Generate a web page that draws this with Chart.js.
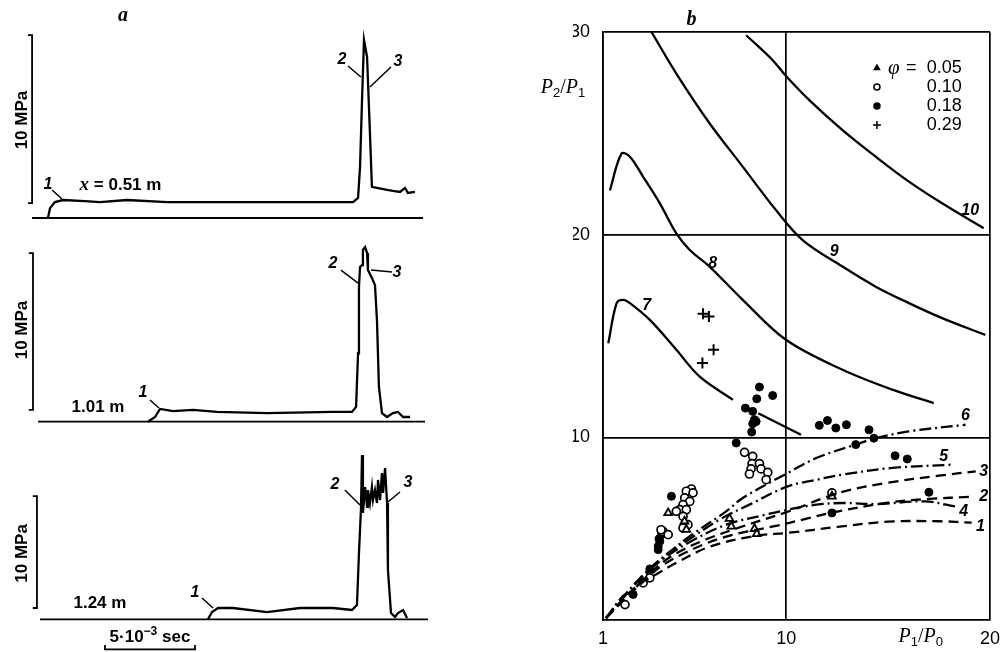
<!DOCTYPE html>
<html>
<head>
<meta charset="utf-8">
<script src="https://cdn.jsdelivr.net/npm/chart.js@4.4.0/dist/chart.umd.min.js"></script>
<style>
html, body { margin: 0; padding: 0; background: #fff; }
#wrap { position: relative; width: 1008px; height: 652px; overflow: hidden; }
canvas { position: absolute; }
</style>
</head>
<body>
<div id="wrap">
  <canvas id="a1" width="440" height="225" style="left:0;top:0"></canvas>
  <canvas id="a2" width="440" height="205" style="left:0;top:225px"></canvas>
  <canvas id="a3" width="440" height="222" style="left:0;top:430px"></canvas>
  <canvas id="b" width="508" height="652" style="left:500px;top:0"></canvas>
</div>
<script>
// ---- panel a: pressure traces, [time ms, pressure MPa] ----
const trace1 = [[0.44,0],[0.56,0.6],[0.83,0.95],[1.28,1.07],[2.5,1.0],[3.33,0.95],[4.83,1.07],[7.06,0.95],[12.61,0.95],[17.39,0.95],[17.67,1.19],[17.78,3.04],[17.89,7.02],[18.0,10.6],[18.17,9.58],[18.33,5.06],[18.44,1.85],[18.72,1.79],[19.28,1.67],[19.61,1.61],[20.0,1.55],[20.28,1.79],[20.44,1.49],[20.83,1.55]];
const trace2 = [[6.0,0],[6.39,0.3],[6.67,0.81],[7.39,0.68],[8.5,0.75],[9.83,0.62],[12.61,0.55],[16.28,0.62],[17.33,0.62],[17.56,0.94],[17.67,4.36],[17.72,8.58],[17.78,9.85],[17.89,9.97],[17.94,10.94],[18.06,11.12],[18.17,10.74],[18.22,9.66],[18.44,9.15],[18.61,8.71],[18.72,6.48],[18.83,2.21],[19.0,0.55],[19.28,0.3],[19.61,0.55],[19.89,0.62],[20.17,0.3],[20.56,0.3]];
const trace3 = [[9.33,0],[9.56,0.65],[9.89,1.01],[10.72,1.01],[12.61,0.65],[14.44,1.01],[16.28,1.01],[17.33,0.83],[17.61,1.28],[17.72,5.92],[17.83,9.76],[17.89,14.67],[17.94,9.49],[18.06,11.81],[18.17,10.03],[18.22,11.54],[18.33,10.38],[18.44,11.81],[18.5,10.65],[18.61,11.54],[18.72,10.38],[18.78,12.44],[18.89,10.65],[19.0,13.06],[19.06,11.28],[19.17,13.51],[19.28,10.38],[19.33,4.4],[19.5,0.56],[19.72,0.21],[19.89,0.56],[20.17,0.83],[20.39,0.12]];
const baseline1 = [[-0.44,0],[21.28,0]];
const baseline2 = [[-0.11,0],[21.39,0]];
const baseline3 = [[0,0],[21.56,0]];
// 10 MPa reference brackets
const bracket1 = [[-0.67,0.89],[-0.44,0.89],[-0.44,10.89],[-0.67,10.89]];
const bracket2 = [[-0.62,0.75],[-0.39,0.75],[-0.39,10.74],[-0.62,10.74]];
const bracket3 = [[-0.4,1.01],[-0.17,1.01],[-0.17,11.0],[-0.4,11.0]];
const leaders1 = [[[0.67,1.67],[1.22,1.13]],[[17.11,9.05],[17.83,8.39]],[[19.5,8.99],[18.33,7.8]]];
const leaders2 = [[[6.11,1.38],[6.61,0.87]],[[16.72,9.66],[17.67,8.83]],[[18.39,9.66],[19.56,9.53]]];
const leaders3 = [[[9.0,1.9],[9.61,1.01]],[[16.94,11.54],[17.78,10.2]],[[20.0,11.37],[19.33,10.47]]];
const timeBar = [[3.61,-2.3],[3.61,-2.68],[8.61,-2.68],[8.61,-2.3]];

// ---- panel b: P2/P1 vs P1/P0 ----
const xTicks = [1, 10, 20];
const yTicks = [10, 20, 30];
const curve1 = [[1.15,1.1],[2,1.95],[3,2.9],[3.45,3.16],[4.6,3.82],[6.2,4.6],[8.35,5.13],[10.1,5.3],[12.6,5.6],[15,5.85],[17.5,5.87],[19.1,5.8]];
const curve2 = [[1.15,1.1],[2,2.0],[3,2.95],[4,3.75],[5,4.3],[6,4.75],[7,5.1],[8,5.35],[9.3,5.6],[11,6.0],[12.25,6.3],[15,6.79],[17,6.97],[19.1,7.08]];
const curve3 = [[1.15,1.1],[2,2.05],[3,3.0],[4,3.9],[5,4.5],[6,4.95],[7.5,5.5],[10.1,6.35],[12.6,7.28],[15,7.77],[17.5,8.12],[19.3,8.33]];
const curve4 = [[1.15,1.1],[2,2.1],[3,3.2],[4,4.05],[5.26,4.85],[7.05,5.7],[9,6.2],[10.07,6.44],[11.5,6.69],[12.76,6.77],[14.5,6.72],[16.8,6.85],[18.3,6.6]];
const curve5 = [[1.15,1.1],[2,2.15],[3,3.25],[4,4.15],[5.26,5.0],[6.72,5.95],[8.19,6.69],[10.07,7.59],[11.5,7.92],[12.76,8.17],[15.2,8.5],[18.1,8.66]];
const curve6 = [[1.15,1.1],[2,2.2],[2.47,2.45],[3.3,3.44],[4.1,4.2],[5.26,5.13],[7.05,6.36],[7.86,7.02],[10.07,8.25],[11.5,9.0],[13.4,9.65],[14.4,9.97],[16,10.3],[18.8,10.63]];
const curve7 = [[1.26,14.65],[1.67,16.63],[1.99,16.79],[2.32,16.63],[3.3,15.8],[4.6,14.33],[5.75,13.0],[7.38,11.86],[8.0,null],[8.62,11.2],[10.72,10.14]];
const curve8 = [[1.34,22.19],[1.91,24.0],[2.32,23.85],[2.97,22.86],[3.79,21.55],[4.6,20.07],[5.26,19.25],[6.23,18.43],[7.86,16.79],[9.98,14.82],[12.76,13.34],[15.2,12.36],[17.24,11.7]];
const curve9 = [[3.38,30.0],[4.6,27.95],[6.23,25.5],[7.86,23.36],[9.49,21.22],[10.8,19.74],[12.76,18.43],[14.39,17.44],[16.02,16.63],[17.65,15.89],[19.77,15.06]];
const curve10 = [[8.03,29.84],[9.33,28.61],[9.95,27.87],[11.13,26.64],[12.76,25.16],[14.39,23.85],[16.02,22.62],[17.65,21.55],[19.69,20.32]];
const phi005 = [[4.2,6.28],[5.0,5.87],[5.09,5.46],[7.21,6.0],[7.3,5.62],[8.44,5.5],[8.55,5.25],[12.24,7.1]];
const phi010 = [[7.95,9.27],[8.35,9.07],[8.32,8.71],[8.68,8.71],[8.76,8.45],[8.27,8.45],[8.19,8.2],[9.09,8.28],[9.01,7.92],[5.34,7.46],[5.09,7.35],[5.42,7.27],[5.01,7.02],[5.26,6.85],[4.93,6.69],[4.77,6.44],[5.09,6.44],[4.93,6.11],[4.6,6.36],[5.17,5.7],[4.93,5.54],[3.95,5.37],[4.2,5.21],[3.3,3.08],[2.97,2.83],[2.08,1.76],[12.24,7.27],[3.85,5.45]];
const phi018 = [[8.68,12.49],[8.55,11.91],[9.33,12.07],[7.99,11.45],[8.35,11.29],[8.44,10.88],[8.35,10.68],[8.52,10.79],[8.3,10.27],[7.54,9.73],[11.62,10.6],[12.02,10.84],[12.43,10.47],[12.95,10.63],[14.06,10.38],[14.3,9.97],[13.41,9.65],[15.34,9.1],[15.94,8.94],[17.0,7.3],[12.24,6.28],[3.3,3.52],[2.48,2.26],[4.36,7.1],[3.71,4.64],[3.79,4.88],[3.87,5.21],[3.71,4.47],[3.75,5.0]];
const phi029 = [[5.91,16.1],[6.2,15.97],[6.43,14.33],[5.88,13.67]];

const SANS = '"Liberation Sans", Arial, sans-serif';
const SERIF = '"Liberation Serif", "Times New Roman", serif';

function pts(a) { return a.map(p => ({ x: p[0], y: p[1] })); }
function segs(list) {
  const out = [];
  list.forEach((s, i) => {
    if (i) out.push({ x: s[0][0], y: null });
    s.forEach(p => out.push({ x: p[0], y: p[1] }));
  });
  return out;
}

// draws text items at data coordinates
function makeNotes(items) {
  return {
    id: 'notes',
    afterDraw(chart) {
      const ctx = chart.ctx, xs = chart.scales.x, ys = chart.scales.y;
      items.forEach(n => {
        ctx.save();
        ctx.translate(xs.getPixelForValue(n.x), ys.getPixelForValue(n.y));
        if (n.rot) ctx.rotate(n.rot);
        ctx.fillStyle = '#000';
        ctx.textBaseline = 'middle';
        ctx.textAlign = 'left';
        let w = 0;
        n.parts.forEach(p => { ctx.font = p[1]; w += ctx.measureText(p[0]).width; });
        let cx = n.align === 'left' ? 0 : n.align === 'right' ? -w : -w / 2;
        n.parts.forEach(p => {
          ctx.font = p[1];
          ctx.fillText(p[0], cx, p[2] || 0);
          cx += ctx.measureText(p[0]).width;
        });
        ctx.restore();
      });
    }
  };
}

const lblFont = 'bold italic 16px ' + SANS;
const txtFont = 'bold 16px ' + SANS;

function traceChart(id, o) {
  const c = document.getElementById(id);
  const base = { borderColor: '#000', pointRadius: 0, fill: false, tension: 0, spanGaps: false };
  const sets = [
    { data: pts(o.baseline), borderWidth: 1.8 },
    { data: pts(o.trace), borderWidth: 2.3 },
    { data: pts(o.bracket), borderWidth: 1.8 },
    { data: segs(o.leaders), borderWidth: 1.5 }
  ];
  if (o.bar) sets.push({ data: pts(o.bar), borderWidth: 1.8 });
  const pxMs = 18;
  new Chart(c, {
    type: 'line',
    data: { datasets: sets.map(d => Object.assign({}, base, d)) },
    options: {
      responsive: false,
      animation: false,
      layout: { padding: 0 },
      plugins: { legend: { display: false }, tooltip: { enabled: false } },
      scales: {
        x: { type: 'linear', display: false, min: -40 / pxMs, max: (c.width - 40) / pxMs },
        y: { type: 'linear', display: false, min: -(c.height - o.baseY) / o.pxMPa, max: o.baseY / o.pxMPa }
      }
    },
    plugins: [makeNotes(o.notes)]
  });
}

traceChart('a1', {
  trace: trace1, baseline: baseline1, bracket: bracket1, leaders: leaders1,
  baseY: 218, pxMPa: 16.8,
  notes: [
    { x: 4.61, y: 12.05, parts: [['a', 'bold italic 20px ' + SERIF]] },
    { x: -1.0, y: 5.83, rot: -Math.PI / 2, parts: [['10 MPa', 'bold 17px ' + SANS]] },
    { x: 0.44, y: 2.0, parts: [['1', lblFont]] },
    { x: 16.78, y: 9.4, parts: [['2', lblFont]] },
    { x: 19.89, y: 9.3, parts: [['3', lblFont]] },
    { x: 2.2, y: 1.96, align: 'left', parts: [['x', 'bold italic 19px ' + SERIF], [' = 0.51 m', 'bold 17px ' + SANS]] }
  ]
});
traceChart('a2', {
  trace: trace2, baseline: baseline2, bracket: bracket2, leaders: leaders2,
  baseY: 196.7, pxMPa: 15.7,
  notes: [
    { x: -1.0, y: 5.84, rot: -Math.PI / 2, parts: [['10 MPa', 'bold 17px ' + SANS]] },
    { x: 5.72, y: 1.85, parts: [['1', lblFont]] },
    { x: 16.28, y: 10.1, parts: [['2', lblFont]] },
    { x: 19.83, y: 9.47, parts: [['3', lblFont]] },
    { x: 3.22, y: 0.9, parts: [['1.01 m', 'bold 17px ' + SANS]] }
  ]
});
traceChart('a3', {
  trace: trace3, baseline: baseline3, bracket: bracket3, leaders: leaders3, bar: timeBar,
  baseY: 189.3, pxMPa: 11.2,
  notes: [
    { x: -1.0, y: 5.88, rot: -Math.PI / 2, parts: [['10 MPa', 'bold 17px ' + SANS]] },
    { x: 8.61, y: 2.4, parts: [['1', lblFont]] },
    { x: 16.39, y: 12.0, parts: [['2', lblFont]] },
    { x: 20.44, y: 12.17, parts: [['3', lblFont]] },
    { x: 3.33, y: 1.46, parts: [['1.24 m', 'bold 17px ' + SANS]] },
    { x: 6.11, y: -1.6, parts: [['5·10', 'bold 17px ' + SANS], ['−3', 'bold 12px ' + SANS, -6], [' sec', 'bold 17px ' + SANS]] }
  ]
});

// ---- panel b ----
const dashed = [10, 6];
const dashDot = [12, 4, 2, 4];
const curveSets = [
  [curve1, dashed], [curve2, dashed], [curve3, dashed],
  [curve4, dashDot], [curve5, dashDot], [curve6, dashDot],
  [curve7, []], [curve8, []], [curve9, []], [curve10, []]
].map(([d, dash]) => ({
  type: 'line', data: pts(d), borderColor: '#000', borderWidth: 2.3, borderDash: dash,
  pointRadius: 0, tension: 0.35, spanGaps: false, fill: false
}));
const pointSets = [
  { data: pts(phi005), pointStyle: 'triangle', pointRadius: 4.5, pointBorderWidth: 1.8, pointBackgroundColor: '#fff' },
  { data: pts(phi010), pointStyle: 'circle', pointRadius: 4, pointBorderWidth: 1.7, pointBackgroundColor: '#fff' },
  { data: pts(phi018), pointStyle: 'circle', pointRadius: 4, pointBorderWidth: 1, pointBackgroundColor: '#000' },
  { data: pts(phi029), pointStyle: 'cross', pointRadius: 5.5, pointBorderWidth: 2, pointBackgroundColor: '#000' }
].map(d => Object.assign({ type: 'scatter', pointBorderColor: '#000', showLine: false }, d));

const curveLabels = [
  ['1', 19.53, 5.62], ['2', 19.69, 7.1], ['3', 19.69, 8.33], ['4', 18.71, 6.36], ['5', 17.73, 9.07],
  ['6', 18.8, 11.1], ['7', 3.14, 16.5], ['8', 6.38, 18.6], ['9', 12.35, 19.17], ['10', 19.03, 21.2]
];
const legendRows = [['triangle', false, '0.05'], ['circle', false, '0.10'], ['circle', true, '0.18'], ['cross', true, '0.29']];

const legendPlugin = {
  id: 'phiLegend',
  afterDraw(chart) {
    const ctx = chart.ctx, xs = chart.scales.x, ys = chart.scales.y;
    const sx = xs.getPixelForValue(14.45), rx = xs.getPixelForValue(18.61);
    let sy = ys.getPixelForValue(28.22);
    legendRows.forEach((r, i) => {
      ctx.save();
      ctx.strokeStyle = '#000';
      ctx.fillStyle = r[1] ? '#000' : '#fff';
      ctx.lineWidth = 1.5;
      Chart.helpers.drawPoint(ctx, { pointStyle: r[0], radius: r[0] === 'cross' ? 4 : 3, borderWidth: 1.5, rotation: 0 }, sx, sy);
      if (r[0] === 'triangle') { ctx.fillStyle = '#000'; ctx.fill(); }
      ctx.fillStyle = '#000';
      ctx.textBaseline = 'middle';
      if (i === 0) {
        ctx.font = 'italic 21px ' + SERIF;
        ctx.textAlign = 'left';
        ctx.fillText('φ', sx + 11, sy);
        ctx.font = '18px ' + SANS;
        ctx.fillText('=', sx + 29, sy);
      }
      ctx.font = '18px ' + SANS;
      ctx.textAlign = 'right';
      ctx.fillText(r[2], rx, sy);
      ctx.restore();
      sy += 19;
    });
  }
};

new Chart(document.getElementById('b'), {
  type: 'line',
  data: { datasets: curveSets.concat(pointSets) },
  options: {
    responsive: false,
    animation: false,
    layout: { padding: { left: 73, right: 15, top: 32, bottom: 2 } },
    plugins: { legend: { display: false }, tooltip: { enabled: false } },
    scales: {
      x: {
        type: 'linear', min: 1, max: 20,
        afterBuildTicks: s => { s.ticks = xTicks.map(v => ({ value: v })); },
        afterFit: s => { s.height = 30; },
        ticks: { color: '#000', font: { size: 18, family: SANS }, padding: 8, maxRotation: 0 },
        grid: { color: '#000', lineWidth: 1.7, drawTicks: false },
        border: { color: '#000', width: 1.7 }
      },
      y: {
        type: 'linear', min: 1, max: 30,
        afterBuildTicks: s => { s.ticks = yTicks.map(v => ({ value: v })); },
        afterFit: s => { s.width = 30; },
        ticks: { color: '#000', font: { size: 18, family: SANS }, padding: 13 },
        grid: { color: '#000', lineWidth: 1.7, drawTicks: false },
        border: { color: '#000', width: 1.7 }
      }
    }
  },
  plugins: [
    makeNotes(curveLabels.map(l => ({ x: l[1], y: l[2], parts: [[l[0], 'bold italic 16px ' + SANS]] })).concat([
      { x: 5.35, y: 30.6, parts: [['b', 'bold italic 20px ' + SERIF]] },
      { x: -0.96, y: 27.23, parts: [['P', 'italic 20px ' + SERIF], ['2', '13px ' + SANS, 5], ['/', '20px ' + SERIF], ['P', 'italic 20px ' + SERIF], ['1', '13px ' + SANS, 5]] },
      { x: 16.6, y: 0.15, parts: [['P', 'italic 20px ' + SERIF], ['1', '13px ' + SANS, 5], ['/', '20px ' + SERIF], ['P', 'italic 20px ' + SERIF], ['0', '13px ' + SANS, 5]] }
    ])),
    legendPlugin
  ]
});
</script>
</body>
</html>
